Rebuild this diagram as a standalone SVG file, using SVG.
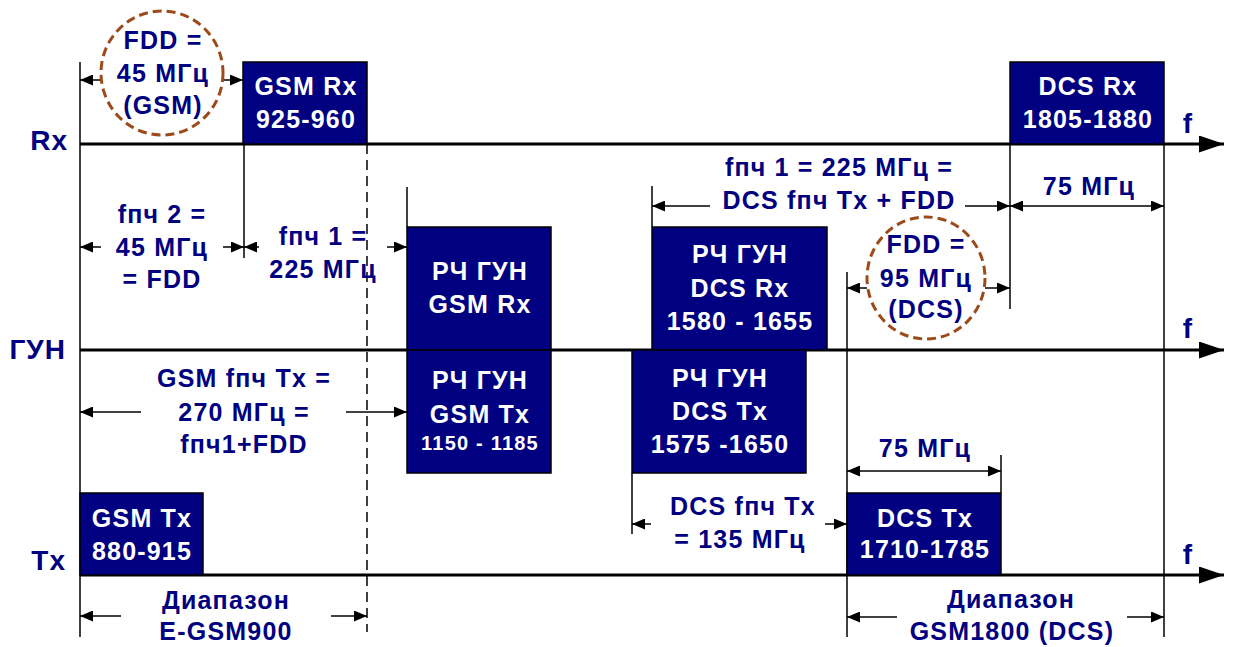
<svg xmlns="http://www.w3.org/2000/svg" width="1233" height="647" viewBox="0 0 1233 647">
<defs>
<style>
.t{font-family:"Liberation Sans",Arial,sans-serif;font-weight:bold;font-size:25px;letter-spacing:1.2px;fill:#000080;text-anchor:middle}
.w{fill:#ffffff}
.s{font-size:20px;letter-spacing:1.2px}
.lab{font-size:28px;letter-spacing:1px;text-anchor:end}
.box{fill:#000080;stroke:#000;stroke-width:1.5}
.ax{stroke:#000;stroke-width:3;fill:none}
.v{stroke:#000;stroke-width:1.5;fill:none}
.d{stroke:#000;stroke-width:1.5;fill:none;marker-end:url(#ah)}
.dd{stroke:#000;stroke-width:1.5;fill:none;marker-end:url(#ah);marker-start:url(#ah)}
.c{fill:none;stroke:#9C4A1A;stroke-width:3;stroke-dasharray:9 5}
</style>
<marker id="ah" markerUnits="userSpaceOnUse" markerWidth="13" markerHeight="11" refX="13" refY="5.5" orient="auto-start-reverse" viewBox="0 0 13 11">
<path d="M0,0 L13,5.5 L0,11 z" fill="#000"/>
</marker>
<marker id="big" markerUnits="userSpaceOnUse" markerWidth="25" markerHeight="17" refX="25" refY="8.5" orient="auto" viewBox="0 0 25 17">
<path d="M0,0 L25,8.5 L0,17 z" fill="#000"/>
</marker>
</defs>
<rect width="1233" height="647" fill="#fff"/>

<g id="axes">
<line class="ax" x1="80" y1="144" x2="1224" y2="144" marker-end="url(#big)"/>
<line class="ax" x1="80" y1="350" x2="1224" y2="350" marker-end="url(#big)"/>
<line class="ax" x1="80" y1="575" x2="1224" y2="575" marker-end="url(#big)"/>
<text class="t lab" x="68" y="150">Rx</text>
<text class="t lab" x="66" y="359">ГУН</text>
<text class="t lab" x="66" y="570">Tx</text>
<text class="t lab" x="1193" y="133">f</text>
<text class="t lab" x="1193" y="338">f</text>
<text class="t lab" x="1193" y="564">f</text>
</g>

<g id="connectors">
<line class="v" x1="80" y1="62" x2="80" y2="637"/>
<line class="v" x1="244" y1="144" x2="244" y2="258"/>
<line class="v" x1="367" y1="144" x2="367" y2="632" stroke-dasharray="10 6"/>
<line class="v" x1="407" y1="187" x2="407" y2="227"/>
<line class="v" x1="652" y1="186" x2="652" y2="227"/>
<line class="v" x1="1010" y1="144" x2="1010" y2="309"/>
<line class="v" x1="1164" y1="144" x2="1164" y2="637"/>
<line class="v" x1="847" y1="272" x2="847" y2="637"/>
<line class="v" x1="632" y1="473" x2="632" y2="534"/>
<line class="v" x1="1001" y1="455" x2="1001" y2="493"/>

<line class="d" x1="101" y1="80" x2="80" y2="80"/>
<line class="d" x1="223" y1="80" x2="243" y2="80"/>
<line class="d" x1="101" y1="247" x2="80" y2="247"/>
<line class="d" x1="223" y1="247" x2="244" y2="247"/>
<line class="d" x1="259" y1="247" x2="244" y2="247"/>
<line class="d" x1="387" y1="247" x2="407" y2="247"/>
<line class="d" x1="710" y1="206" x2="652" y2="206"/>
<line class="d" x1="965" y1="206" x2="1010" y2="206"/>
<line class="dd" x1="1010" y1="206" x2="1164" y2="206"/>
<line class="d" x1="867" y1="288" x2="847" y2="288"/>
<line class="d" x1="985" y1="288" x2="1010" y2="288"/>
<line class="d" x1="141" y1="412" x2="80" y2="412"/>
<line class="d" x1="346" y1="412" x2="407" y2="412"/>
<line class="d" x1="651" y1="524" x2="632" y2="524"/>
<line class="d" x1="825" y1="524" x2="847" y2="524"/>
<line class="dd" x1="847" y1="471" x2="1001" y2="471"/>
<line class="d" x1="121" y1="616" x2="80" y2="616"/>
<line class="d" x1="331" y1="616" x2="367" y2="616"/>
<line class="d" x1="897" y1="617" x2="847" y2="617"/>
<line class="d" x1="1127" y1="617" x2="1164" y2="617"/>
</g>

<g id="gsm-rx">
<rect class="box" x="243" y="62" width="124" height="82"/>
<text class="t w" x="306" y="95">GSM Rx</text>
<text class="t w" x="306" y="128">925-960</text>
</g>
<g id="dcs-rx">
<rect class="box" x="1010" y="62" width="154" height="82"/>
<text class="t w" x="1088" y="95">DCS Rx</text>
<text class="t w" x="1088" y="128">1805-1880</text>
</g>
<g id="vco-gsm-rx">
<rect class="box" x="407" y="227" width="144" height="123"/>
<text class="t w" x="480" y="280">РЧ ГУН</text>
<text class="t w" x="480" y="313">GSM Rx</text>
</g>
<g id="vco-dcs-rx">
<rect class="box" x="652" y="227" width="175" height="123"/>
<text class="t w" x="740" y="263">РЧ ГУН</text>
<text class="t w" x="740" y="297">DCS Rx</text>
<text class="t w" x="740" y="330">1580 - 1655</text>
</g>
<g id="vco-gsm-tx">
<rect class="box" x="407" y="350" width="144" height="123"/>
<text class="t w" x="480" y="389">РЧ ГУН</text>
<text class="t w" x="480" y="423">GSM Tx</text>
<text class="t w s" x="480" y="450">1150 - 1185</text>
</g>
<g id="vco-dcs-tx">
<rect class="box" x="632" y="350" width="174" height="123"/>
<text class="t w" x="720" y="387">РЧ ГУН</text>
<text class="t w" x="720" y="420">DCS Tx</text>
<text class="t w" x="720" y="453">1575 -1650</text>
</g>
<g id="gsm-tx">
<rect class="box" x="80" y="493" width="123" height="82"/>
<text class="t w" x="142" y="527">GSM Tx</text>
<text class="t w" x="142" y="560">880-915</text>
</g>
<g id="dcs-tx">
<rect class="box" x="847" y="493" width="154" height="82"/>
<text class="t w" x="925" y="527">DCS Tx</text>
<text class="t w" x="925" y="558">1710-1785</text>
</g>

<g id="fdd-gsm">
<ellipse class="c" cx="162" cy="73" rx="61" ry="62"/>
<text class="t" x="163" y="49">FDD =</text>
<text class="t" x="163" y="82">45 МГц</text>
<text class="t" x="163" y="114">(GSM)</text>
</g>
<g id="fdd-dcs">
<ellipse class="c" cx="926" cy="278" rx="59" ry="61"/>
<text class="t" x="926" y="253">FDD =</text>
<text class="t" x="926" y="287">95 МГц</text>
<text class="t" x="926" y="318">(DCS)</text>
</g>
<g id="if2">
<text class="t" x="162" y="223">fпч 2  =</text>
<text class="t" x="162" y="256">45 МГц</text>
<text class="t" x="162" y="288">= FDD</text>
</g>
<g id="if1">
<text class="t" x="323" y="245">fпч 1 =</text>
<text class="t" x="323" y="278">225 МГц</text>
</g>
<g id="dcs-if1">
<text class="t" x="839" y="176">fпч 1 = 225 МГц =</text>
<text class="t" x="839" y="209">DCS fпч Tx + FDD</text>
</g>
<g id="dcs-rx-bw">
<text class="t" x="1089" y="195">75 МГц</text>
</g>
<g id="gsm-if-tx">
<text class="t" x="244" y="387">GSM fпч Tx =</text>
<text class="t" x="244" y="421">270 МГц =</text>
<text class="t" x="244" y="453">fпч1+FDD</text>
</g>
<g id="dcs-if-tx">
<text class="t" x="743" y="515">DCS fпч Tx</text>
<text class="t" x="740" y="548">= 135 МГц</text>
</g>
<g id="dcs-tx-bw">
<text class="t" x="925" y="457">75 МГц</text>
</g>
<g id="egsm-band">
<text class="t" x="226" y="609">Диапазон</text>
<text class="t" x="226" y="640">E-GSM900</text>
</g>
<g id="dcs-band">
<text class="t" x="1011" y="608">Диапазон</text>
<text class="t" x="1012" y="640">GSM1800 (DCS)</text>
</g>
</svg>
